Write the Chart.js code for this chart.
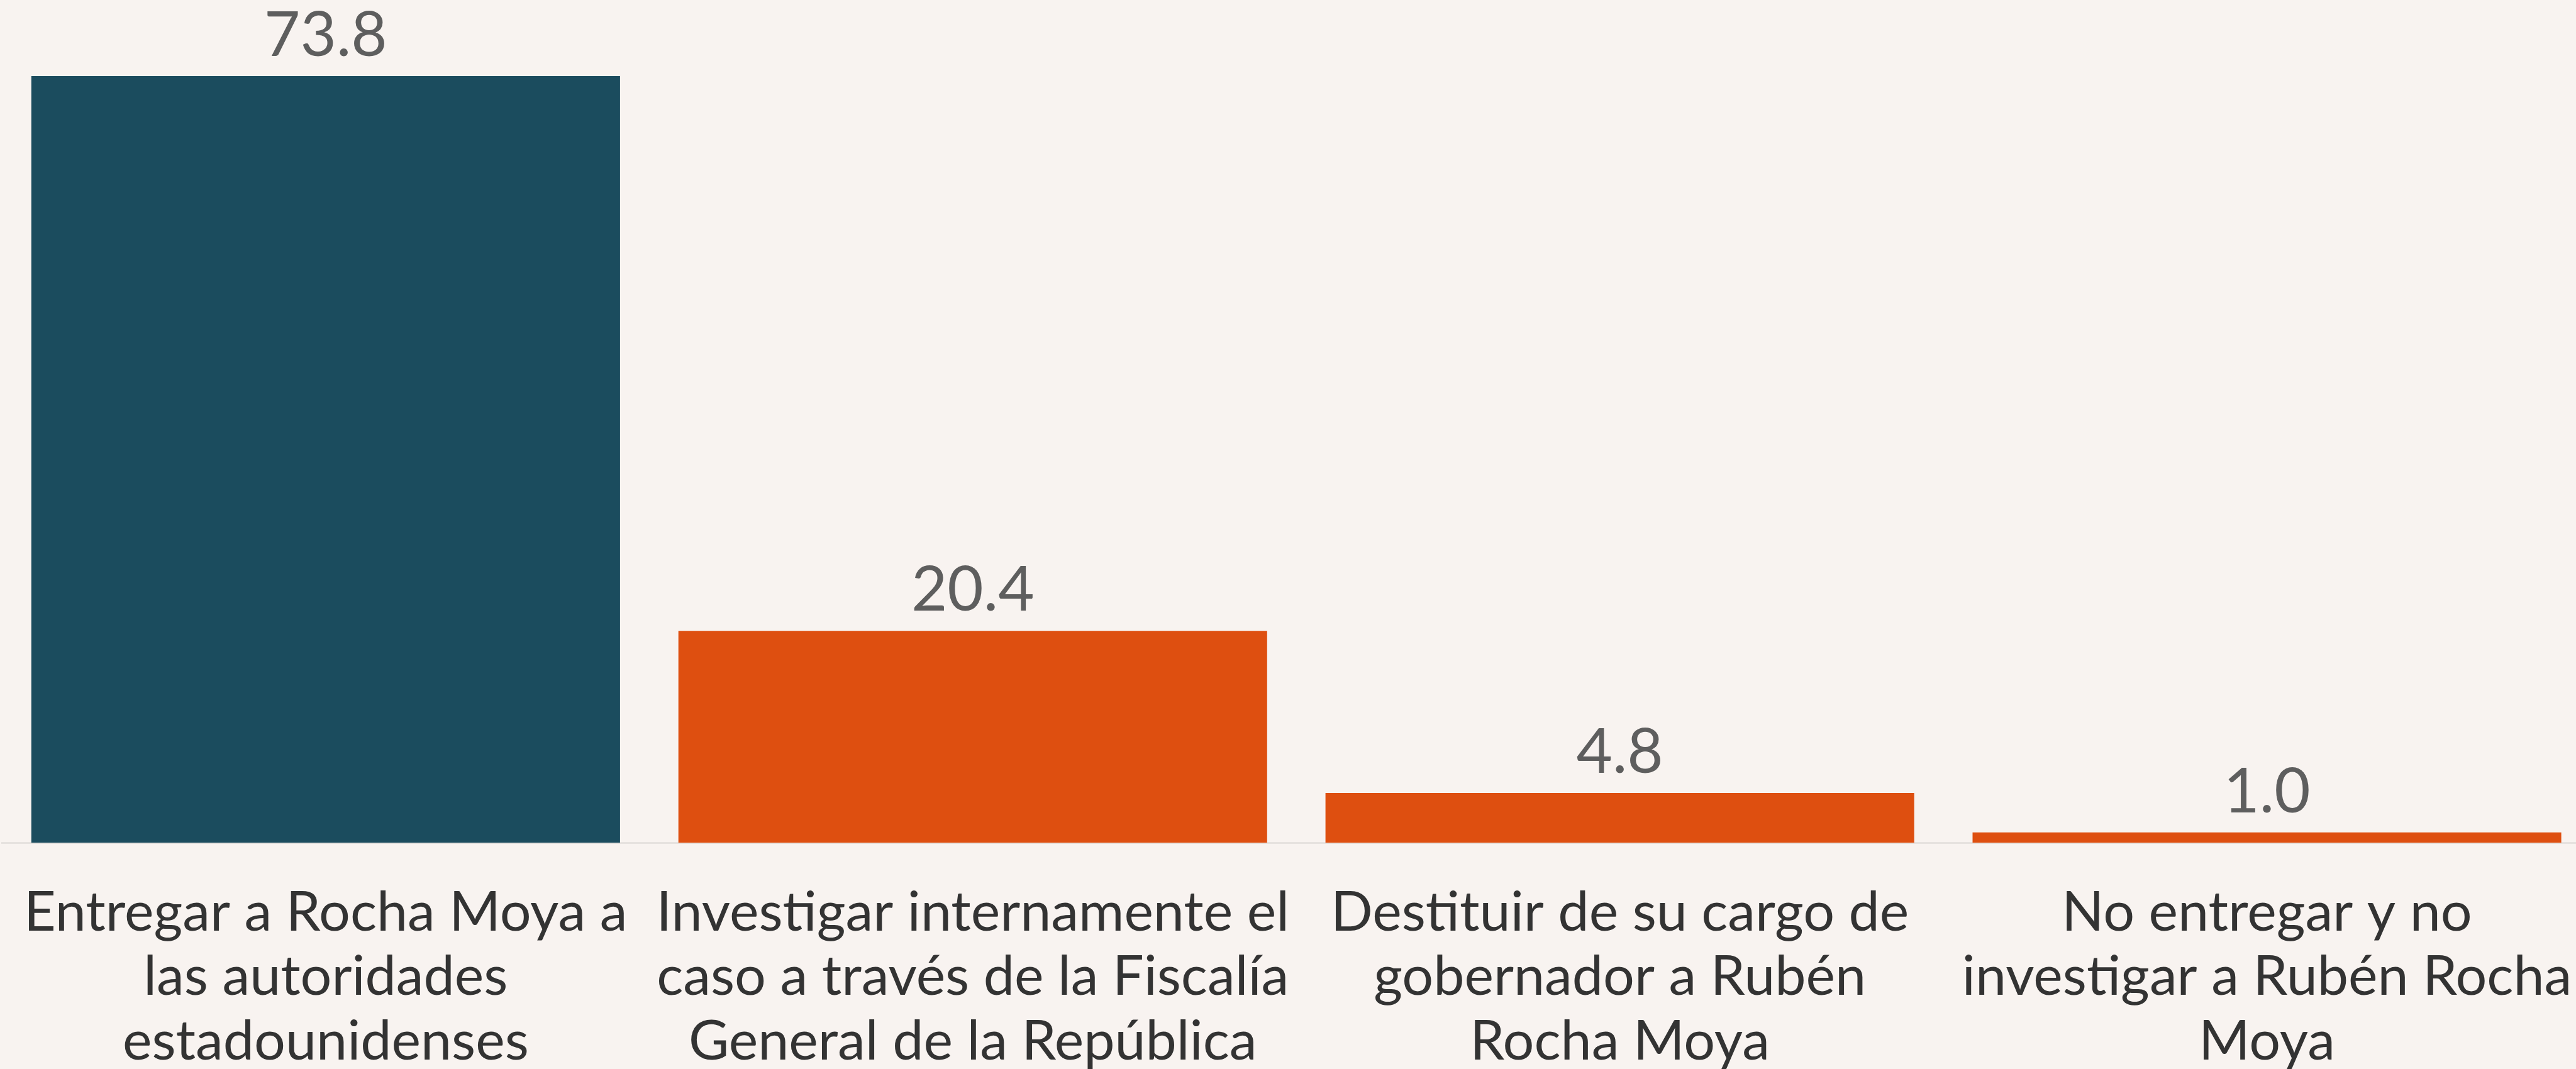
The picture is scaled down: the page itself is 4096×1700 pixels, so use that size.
<!DOCTYPE html>
<html><head><meta charset="utf-8">
<script src="https://cdn.jsdelivr.net/npm/chart.js@4/dist/chart.umd.min.js"></script>
<style>
html,body{margin:0;padding:0;background:#F8F3F0;overflow:hidden;}
#wrap{width:4096px;height:1700px;overflow:hidden;position:relative;background:#F8F3F0;}
canvas{display:block;}
</style></head><body>
<div id="wrap"><canvas id="c" width="4121" height="1700"></canvas></div>
<script>
const categories = [
  ["Entregar a Rocha Moya a", "las autoridades", "estadounidenses"],
  ["Investigar internamente el", "caso a través de la Fiscalía", "General de la República"],
  ["Destituir de su cargo de", "gobernador a Rubén", "Rocha Moya"],
  ["No entregar y no", "investigar a Rubén Rocha", "Moya"]
];
const values = [73.8, 20.4, 4.8, 1.0];
const barColors = ["#1B4C5E", "#DE4F10", "#DE4F10", "#DE4F10"];
const yMin = 0;
const yMax = 80;

const valueLabels = {
  id: 'valueLabels',
  afterDatasetsDraw(chart) {
    const ctx = chart.ctx;
    const meta = chart.getDatasetMeta(0);
    ctx.save();
    ctx.font = '99px Lato';
    ctx.fillStyle = '#5E5E5E';
    ctx.textAlign = 'center';
    ctx.textBaseline = 'alphabetic';
    meta.data.forEach((bar, i) => {
      ctx.fillText(values[i].toFixed(1), bar.x, bar.y - 32);
    });
    ctx.restore();
  }
};

new Chart(document.getElementById('c'), {
  type: 'bar',
  data: {
    labels: categories,
    datasets: [{
      data: values,
      backgroundColor: barColors,
      borderWidth: 0,
      barPercentage: 0.9098,
      categoryPercentage: 1
    }]
  },
  options: {
    responsive: false,
    devicePixelRatio: 1,
    animation: false,
    layout: { padding: { left: 3.4, right: 2, top: 18.6, bottom: 0 } },
    plugins: { legend: { display: false }, tooltip: { enabled: false } },
    scales: {
      x: {
        grid: { display: true, drawOnChartArea: false, drawTicks: false, tickLength: 0, color: 'rgba(0,0,0,0)' },
        border: { display: true, color: '#E6E2DF', width: 3 },
        ticks: {
          color: '#333333',
          font: { family: 'Lato', size: 88, lineHeight: '102.5px' },
          padding: 60,
          maxRotation: 0,
          minRotation: 0,
          autoSkip: false
        },
        afterFit(s) { s.paddingLeft = 0; s.paddingRight = 0; s.height = 359.7; }
      },
      y: { display: false, min: yMin, max: yMax }
    }
  },
  plugins: [valueLabels]
});
</script>
</body></html>
